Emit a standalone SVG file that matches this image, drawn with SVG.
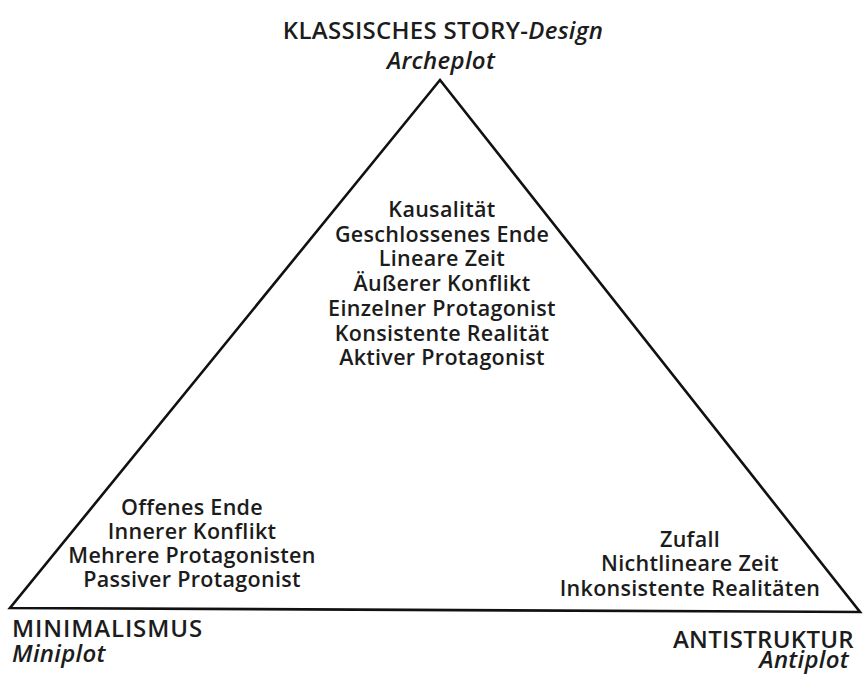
<svg xmlns="http://www.w3.org/2000/svg" width="864" height="677" viewBox="0 0 864 677">
<style>
text{font-family:"Open Sans","Noto Sans","DejaVu Sans",sans-serif;font-size:21.5px;font-weight:600;letter-spacing:0.3px;fill:#1c1c1c}
.c{text-anchor:middle}
.i{font-style:italic}
.r{text-anchor:end}
.h{font-size:24px}
.edge{fill:none;stroke:#111;stroke-width:2.6;stroke-linejoin:miter}
</style>
<rect width="864" height="677" fill="#fff"/>
<g id="connectors">
<path class="edge" d="M440,80 L860,612 L10,608 Z"/>
</g>
<g id="archeplot">
<text class="c h" x="443" y="39">KLASSISCHES STORY-<tspan class="i">Design</tspan></text>
<text class="c h i" x="441" y="69">Archeplot</text>
</g>
<g id="center-list">
<text class="c" x="442" y="217">Kausalität</text>
<text class="c" x="442" y="242">Geschlossenes Ende</text>
<text class="c" x="442" y="266">Lineare Zeit</text>
<text class="c" x="442" y="291">Äußerer Konflikt</text>
<text class="c" x="442" y="316">Einzelner Protagonist</text>
<text class="c" x="442" y="341">Konsistente Realität</text>
<text class="c" x="442" y="365">Aktiver Protagonist</text>
</g>
<g id="left-list">
<text class="c" x="192" y="515">Offenes Ende</text>
<text class="c" x="192" y="539">Innerer Konflikt</text>
<text class="c" x="192" y="563">Mehrere Protagonisten</text>
<text class="c" x="192" y="587">Passiver Protagonist</text>
</g>
<g id="right-list">
<text class="c" x="690" y="547">Zufall</text>
<text class="c" x="690" y="571">Nichtlineare Zeit</text>
<text class="c" x="690" y="596">Inkonsistente Realitäten</text>
</g>
<g id="miniplot">
<text class="h" x="12" y="637" style="letter-spacing:0.9px">MINIMALISMUS</text>
<text class="h i" x="12" y="662">Miniplot</text>
</g>
<g id="antiplot">
<text class="r h" x="854" y="648">ANTISTRUKTUR</text>
<text class="r h i" x="849" y="668">Antiplot</text>
</g>
</svg>
